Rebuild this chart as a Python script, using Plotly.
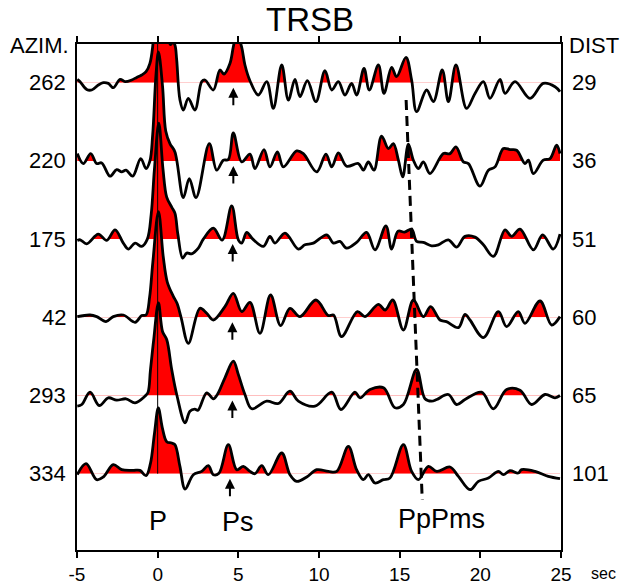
import plotly.graph_objects as go

# ---------------- data ----------------
azim_labels = ["262", "220", "175", "42", "293", "334"]
dist_labels = ["29", "36", "51", "60", "65", "101"]

t_262 = [-4.98, -4.81, -4.4, -4.09, -3.68, -3.37, -3.06, -2.75, -2.33, -2.02, -1.61, -1.3, -0.99, -0.72, -0.48, -0.31,
         0.05, 0.45, 0.8, 0.95, 1.08, 1.18, 1.38, 1.59, 1.9, 2.31, 2.73, 2.93, 3.45, 3.86, 4.11, 4.48, 4.69, 4.9, 5.2,
         5.41, 5.72, 6.24, 6.76, 7.17, 7.69, 8.1, 8.51, 8.82, 9.28, 9.81, 10.37, 10.79, 11.2, 11.61, 12.02, 12.33, 12.79,
         13.12, 13.68, 14.03, 14.5, 14.81, 15.39, 15.74, 16.05, 16.67, 17.09, 17.64, 18.02, 18.49, 19.15, 19.67, 20.19,
         20.6, 21.22, 21.53, 22.15, 23.08, 23.9, 24.63, 24.94]
a_262 = [3.3, 1, -6.7, -7.3, -2.3, 0, -0.7, -5, 3.3, 1, 2.7, 5.3, 7.7, 11, 19.3, 36,
         120, 65, 38, 41, 37, 22.7, -17, -27.3, -15.7, -27.3, 1, 2.7, -7.3, 12.7, 8.7, 19.3, 36, 50, 36,
         17.7, 2, -12.3, 1, -25.7, 17.7, -17.3, 3.3, -14, 2, -19, 12, -7.3, 1, -12.3, -0.7, -12.3, 14.3,
         -7.3, 17.7, -10.7, 15.3, 6, 25.3, 2.7, -29, -7.3, -19, 12.7, -19, 17.7, -25.7, -10.7, 1,
         -15.7, 3.3, -10.7, 1, -15.7, -0.7, -4, -9]

t_220 = [-4.98, -4.61, -4.15, -3.78, -3.47, -2.95, -2.54, -2.23, -1.96, -1.55, -1.05, -0.72, -0.48, -0.31, -0.1, 0.05,
         0.3, 0.5, 0.76, 1.07, 1.59, 1.96, 2.38, 3.2, 3.66, 4.07, 4.38, 4.69, 5.21, 5.72, 6.03, 6.59, 6.96, 7.42, 7.79,
         8.62, 9.03, 9.86, 10.43, 10.79, 11.2, 11.71, 12.44, 12.75, 13.06, 13.41, 13.88, 14.3, 14.61, 14.92, 15.19,
         15.54, 15.85, 16.16, 16.47, 16.88, 17.71, 18.12, 18.49, 18.95, 19.26, 19.98, 20.5, 20.91, 21.43, 21.84, 22.25,
         22.77, 22.98, 23.29, 23.9, 24.32, 24.73, 24.94]
a_220 = [7.3, -2.7, 7.3, -2.7, -2, -15.3, -8.7, -11, -9.3, -15.3, 2.3, -7.7, 0, 26, 87, 109,
         75, 30, 17.3, 9, -36.7, -17.7, -36.7, 17.3, -9.3, 0.7, 1.3, 28, -1, 6.7, -7.7, 11.3, -6, 9, -6,
         10, 7.3, -11, 6.7, -6, 8, -5.3, -2.7, -9.3, -1, -9.3, 24.7, 12.3, 17.3, 0.7, -16,
         16.7, 0.7, -7.7, -1, -12.7, 7.3, 7.3, 14, -1, -2.7, -25.3, -9.3, -6, 12.3, 11.3, 10.7,
         -2.7, 0.7, -12.7, 0.7, 2.3, 15.7, 7.3]

t_175 = [-4.98, -4.8, -4.4, -3.68, -3.16, -2.64, -2.13, -1.82, -1.4, -0.99, -0.64, -0.4, -0.2, 0.07, 0.33, 0.56, 0.87,
         1.07, 1.25, 1.55, 1.8, 2.1, 2.52, 2.83, 3.45, 4.0, 4.59, 5.0, 5.21, 5.52, 5.9, 6.55, 6.96, 7.27, 7.89, 8.72,
         9.13, 9.65, 10.48, 10.89, 11.3, 11.71, 12.33, 12.95, 13.47, 14.15, 14.5, 14.9, 15.3, 15.74, 16.05, 16.47,
         16.98, 17.4, 18.02, 18.53, 19.05, 19.67, 20.19, 20.81, 21.53, 21.94, 22.46, 23.29, 23.86, 24.52, 24.94]
a_175 = [-1.3, -0.7, -4.7, 5, -1.3, 9.3, -4, -10, -4, -7.3, 0, 25, 70, 116, 70, 42, 32,
         26, 5, -19, -14, -14.7, -9, 0, 11, -1, 33.3, -0.7, -4, 6.7, 0, -7.3, 2.7, -4, 6, -10,
         -5.7, -4, 4.3, -4, -2.3, -9, -3.3, 6.7, -10.7, 13.3, -10, 8, 7, 10, -2.3, -3.3,
         -6.7, -5.7, -0.7, -8, 2.7, 2, -5.7, -17.3, 9.3, 2.7, 10, -10.7, 4.3, -10, 5]

t_42 = [-4.98, -4.19, -3.78, -3.2, -2.75, -2.13, -1.4, -0.99, -0.72, -0.5, -0.3, 0.05, 0.35, 0.6, 0.97, 1.2, 1.45,
        1.9, 2.62, 3.04, 3.45, 4.17, 4.69, 5.21, 5.72, 6.34, 7.0, 7.62, 8.2, 8.82, 9.81, 10.58, 10.9, 11.4, 12.38,
        12.85, 13.68, 14.1, 14.57, 15.23, 15.85, 16.47, 16.92, 17.5, 17.9, 18.64, 19.05, 19.36, 20.19, 21.12, 21.63,
        22.35, 22.77, 23.7, 24.42, 24.94]
a_42 = [0.7, 2.3, 0.7, -4.3, 0.7, 2.3, -5, 1.7, 2.3, 20, 55, 105.6, 60, 35, 21, 14, 0,
        -26, 9, 4, -2.7, 10.7, 24, 5.7, 15, -16, 22.3, -8.3, 9, 0.7, 17.3, 1.7, 2.3, -19.3, 5.7,
        0.7, 13, 7.3, 17.3, -12.7, 17.3, 0.7, 10.7, -2.7, -4.3, -10.3, 3, -2.7, -20.3, 5.7, -9.3,
        5.7, -6, 16.3, -7.7, 0.7]

t_293 = [-4.98, -4.7, -4.19, -3.62, -3.06, -2.54, -1.96, -1.4, -0.79, -0.6, -0.45, -0.25, 0.05, 0.3, 0.56, 0.87,
         1.18, 1.7, 2.0, 2.3, 2.5, 3.04, 3.45, 3.7, 4.17, 4.69, 5.0, 5.41, 5.83, 6.76, 7.48, 8.2, 8.72, 9.75, 10.79,
         11.36, 12.23, 12.54, 13.16, 14.0, 14.71, 15.23, 16.05, 16.57, 16.98, 17.3, 18.02, 18.53, 19.05, 20.08, 20.81,
         21.63, 22.46, 23.18, 24.01, 24.63, 24.94]
a_293 = [-10.7, -9, 3.3, -10, -2.3, -4.7, -3.3, -7.3, -0.7, 3, 25, 55, 92.5, 64, 56, 26,
         1, -27.3, -15.7, -13.7, -14.7, 2.7, -3.3, 1, 17.7, 34.3, 21, 1, -13.3, -5.7, -8, 4.3, -5.7, -10.7, 3.3,
         -14, 3.3, -2.3, 6, 7.7, -12.3, -9, 26, -3.3, -5.7, -4, 1, -9, -4, 3.3, -13.3,
         6, 5.3, -9, 1, -2.3, 0]

t_334 = [-4.98, -4.44, -3.78, -3.37, -2.75, -2.23, -1.51, -1.1, -0.72, -0.45, -0.2, 0.04, 0.3, 0.56, 0.87, 1.07,
         1.38, 1.7, 2.21, 2.73, 3.14, 3.45, 3.8, 4.38, 4.9, 5.31, 5.72, 6.03, 6.45, 6.86, 7.69, 8.2, 8.62, 9.24, 9.86,
         10.58, 11.1, 11.82, 12.33, 12.75, 13.06, 13.47, 13.99, 14.4, 15.23, 15.74, 16.16, 16.78, 17.3, 18.12, 18.64,
         19.36, 19.88, 20.5, 21.12, 21.43, 21.84, 22.35, 22.56, 23.39, 24.21, 24.94]
a_334 = [-1, 10, -6, -3.3, 9, 4, 3.3, 3.3, -2, 10, 40, 65.7, 45, 32, 30.7, 29,
         7.3, -15.3, -1, 2.3, 8, -1, 0.5, 29, 4, 7.3, 2.3, 0, 8, -1, 20.7, -1, -7.7, -3.3, 4,
         2.3, 2.3, 27.3, 4, -6, -1, -9.3, -6, -4.3, 29, 2.3, -6, 7.3, 2.3, 6.7, -2.7,
         -16, -7.7, -4.3, 2.3, -1, 3, 0.7, 4, 2.3, -2.7, -5]

trace_times = [t_262, t_220, t_175, t_42, t_293, t_334]
trace_amps = [a_262, a_220, a_175, a_42, a_293, a_334]

ps_arrow_times = [4.69, 4.69, 4.65, 4.63, 4.63, 4.48]
x_ticks = [-5, 0, 5, 10, 15, 20, 25]
x_tick_text = ["-5", "0", "5", "10", "15", "20", "25"]

# ---------------- layout geometry (pixels) ----------------
W, H = 621, 584
ML, MR, MT, MB = 77, 60, 44, 34
PW = W - ML - MR
PH = H - MT - MB
SPACING = 78.2
TOP = 82.7 - MT
BOT = TOP - PH
FONT = "Liberation Sans, Arial, Helvetica, sans-serif"

fig = go.Figure()
layout_axes = {}
n = len(trace_times)
line_axis = "y%d" % (n + 1)

# red positive fills: one clipped subplot per trace, whose bottom edge is the trace baseline
for i in range(n):
    base = -SPACING * i
    yid = "y" if i == 0 else "y%d" % (i + 1)
    key = "yaxis" if i == 0 else "yaxis%d" % (i + 1)
    layout_axes[key] = dict(domain=[(base - BOT) / PH, 1], range=[0, TOP - base], visible=False,
                            anchor="x", fixedrange=True)
    fig.add_trace(go.Scatter(x=trace_times[i], y=trace_amps[i], xaxis="x", yaxis=yid, mode="lines",
                             line=dict(width=0, shape="spline", color="red"), fill="tozeroy",
                             fillcolor="#ff0000", hoverinfo="skip", showlegend=False))

# black wiggle lines
for i in range(n):
    base = -SPACING * i
    fig.add_trace(go.Scatter(x=trace_times[i], y=[a + base for a in trace_amps[i]], xaxis="x", yaxis=line_axis,
                             mode="lines", line=dict(width=2.8, shape="spline", color="black"),
                             hoverinfo="skip", showlegend=False))

layout_axes["yaxis%d" % (n + 1)] = dict(domain=[0, 1], range=[BOT, TOP], anchor="x", showline=True,
                                        mirror=True, linecolor="black", linewidth=2, ticks="",
                                        showticklabels=False, showgrid=False, zeroline=False, fixedrange=True)

shapes = [
    dict(type="line", xref="x", yref=line_axis, x0=0, x1=0, y0=-SPACING * (n - 1), y1=TOP,
         line=dict(color="black", width=1), layer="above"),
    dict(type="line", xref="x", yref=line_axis, x0=15.4, x1=16.4, y0=82.7 - 100, y1=82.7 - 500,
         line=dict(color="black", width=3, dash="10px,6px"), layer="above"),
]


def px_x(px):
    return (px - ML) / PW


def px_y(py):
    return (H - MB - py) / PH


def txt(x, y, s, size, xanchor="center", xref="paper", yref="paper"):
    return dict(xref=xref, yref=yref, x=x, y=y, text=s, showarrow=False, xanchor=xanchor,
                yanchor="middle", font=dict(family=FONT, size=size, color="black"))


annotations = []
for i in range(n):
    base = -SPACING * i
    annotations.append(txt(px_x(68), base, azim_labels[i], 22, "right", "paper", line_axis))
    annotations.append(txt(px_x(570), base, dist_labels[i], 22, "left", "paper", line_axis))
    annotations.append(dict(xref="x", yref=line_axis, x=ps_arrow_times[i], y=base - 5,
                            axref="x", ayref=line_axis, ax=ps_arrow_times[i], ay=base - 24,
                            text="", showarrow=True, arrowhead=2, arrowsize=1, arrowwidth=2,
                            arrowcolor="black", standoff=0, startstandoff=0))

annotations += [
    txt(px_x(310), px_y(19), "TRSB", 33),
    txt(px_x(71), px_y(46), "AZIM.", 22, "right"),
    txt(px_x(567), px_y(46), "DIST", 22, "left"),
    txt(0, px_y(521), "P", 27, xref="x"),
    txt(5, px_y(522), "Ps", 27, xref="x"),
    txt(17.6, px_y(519), "PpPms", 27, xref="x"),
    txt(px_x(603), px_y(573), "sec", 16),
]

fig.update_layout(
    width=W, height=H, margin=dict(l=ML, r=MR, t=MT, b=MB, pad=0, autoexpand=False),
    paper_bgcolor="white", plot_bgcolor="rgba(0,0,0,0)",
    xaxis=dict(range=[-5, 25], anchor=line_axis, showline=True, mirror="ticks", linecolor="black",
               linewidth=2, ticks="outside", ticklen=6, tickwidth=2, tickcolor="black",
               tickvals=x_ticks, ticktext=x_tick_text, tickfont=dict(family=FONT, size=19, color="black"),
               showgrid=False, zeroline=False, fixedrange=True),
    shapes=shapes, annotations=annotations, showlegend=False,
    **layout_axes,
)

fig.write_html("out.html", config={"displayModeBar": False},
               post_script="document.body.style.margin='0px';document.body.style.padding='0px';")
